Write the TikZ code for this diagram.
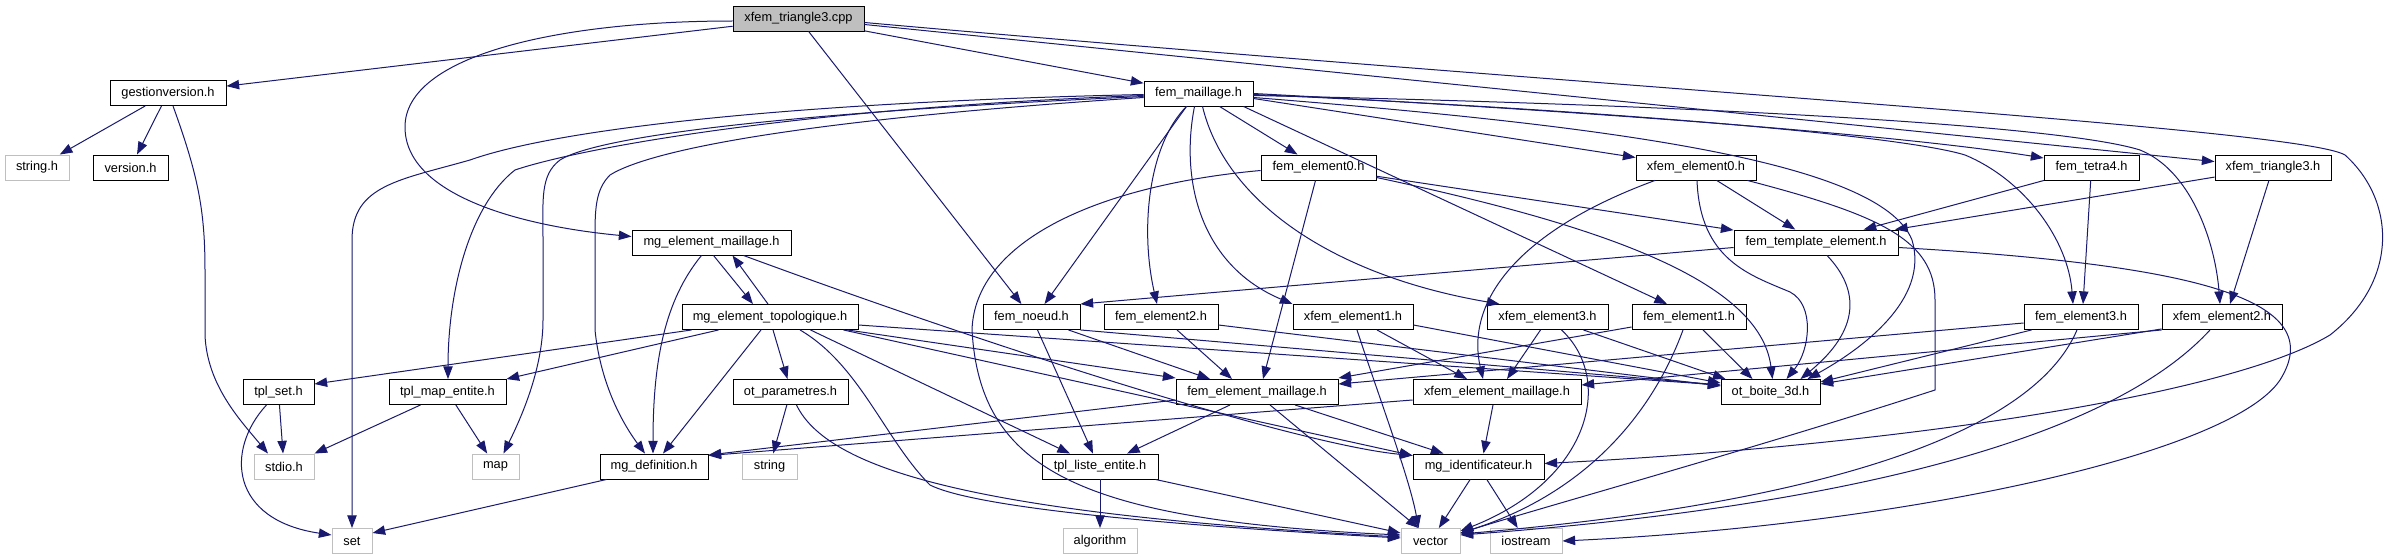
\documentclass[tikz,border=0pt]{standalone}
\usepackage{fontspec}
\setmainfont{Liberation Sans}
\usetikzlibrary{arrows.meta,calc}
\definecolor{edgec}{HTML}{191970}
\definecolor{extc}{HTML}{BFBFBF}
\definecolor{rootc}{HTML}{BFBFBF}
\newcommand\gn[6]{\node[#1, minimum width=#4*0.75pt, minimum height=#5*0.75pt] (#2) at (#3) {#6};}
\begin{document}
\begin{tikzpicture}[x=0.75pt,y=-0.75pt,
  nb/.style={draw=black,line width=0.7pt,fill=white,inner sep=0pt,font=\fontsize{9.6pt}{11.5pt}\selectfont},
  ext/.style={nb,draw=extc},
  rootn/.style={nb,fill=rootc},
  edg/.style={draw=edgec,line width=0.75pt,-{Triangle[length=9.5pt,width=7pt]}}]
\useasboundingbox (0,0) rectangle (2394,560);
\fill[white] (0,0) rectangle (2394,560);
% nodes
\gn{rootn}{cpp}{798.5,18.5}{131}{25}{xfem\_triangle3.cpp}
\gn{nb}{gv}{168,93}{116}{25}{gestionversion.h}
\gn{ext}{strh}{37,167.5}{64}{25}{string.h}
\gn{nb}{ver}{130.5,167.5}{75}{25}{version.h}
\gn{nb}{fm}{1198.5,93.5}{109}{25}{fem\_maillage.h}
\gn{nb}{fe0}{1318.5,167.5}{115}{25}{fem\_element0.h}
\gn{nb}{xe0}{1696,167.5}{120}{25}{xfem\_element0.h}
\gn{nb}{ft4}{2091.5,167.5}{95}{25}{fem\_tetra4.h}
\gn{nb}{xt3}{2273,167.5}{116}{25}{xfem\_triangle3.h}
\gn{nb}{mem}{711.5,242.5}{159}{25}{mg\_element\_maillage.h}
\gn{nb}{fte}{1816,242.5}{164}{25}{fem\_template\_element.h}
\gn{nb}{met}{770,317}{176}{25}{mg\_element\_topologique.h}
\gn{nb}{fn}{1031.5,317}{97}{25}{fem\_noeud.h}
\gn{nb}{fe2}{1161,317}{114}{25}{fem\_element2.h}
\gn{nb}{xe1}{1353,317}{120}{25}{xfem\_element1.h}
\gn{nb}{xe3}{1547.5,317}{121}{25}{xfem\_element3.h}
\gn{nb}{fe1}{1689,317}{114}{25}{fem\_element1.h}
\gn{nb}{fe3}{2081,317}{114}{25}{fem\_element3.h}
\gn{nb}{xe2}{2222,317}{120}{25}{xfem\_element2.h}
\gn{nb}{tset}{278.5,392}{71}{25}{tpl\_set.h}
\gn{nb}{tme}{447.5,392}{117}{25}{tpl\_map\_entite.h}
\gn{nb}{otp}{790.5,392}{115}{25}{ot\_parametres.h}
\gn{nb}{fem}{1257,392}{162}{25}{fem\_element\_maillage.h}
\gn{nb}{xem}{1497,392}{168}{25}{xfem\_element\_maillage.h}
\gn{nb}{ob}{1770.5,392}{99}{25}{ot\_boite\_3d.h}
\gn{ext}{stdio}{284,466.5}{60}{25}{stdio.h}
\gn{ext}{map}{495.5,466.5}{47}{25}{map}
\gn{nb}{mgd}{654,466.5}{108}{25}{mg\_definition.h}
\gn{ext}{str}{769.5,466.5}{55}{25}{string}
\gn{nb}{tle}{1100,466.5}{116}{25}{tpl\_liste\_entite.h}
\gn{nb}{mid}{1478.5,466.5}{131}{25}{mg\_identificateur.h}
\gn{ext}{set}{352,541}{40}{25}{set}
\gn{ext}{alg}{1100,541}{74}{25}{algorithm}
\gn{ext}{vec}{1430.5,541}{59}{25}{vector}
\gn{ext}{ios}{1526,541}{72}{25}{iostream}
% cpp
\draw[edg] (cpp) -- (gv);
\draw[edg] ($(cpp.west)+(0,2.5)$) .. controls (560,21) and (405,55) .. (405,127) .. controls (405,195) and (520,226) .. ($(mem.west)+(0,-6)$);
\draw[edg] (cpp) -- (fn);
\draw[edg] (cpp) -- (fm);
\draw[edg] ($(cpp.east)+(0,6)$) -- (xt3);
\draw[edg] ($(cpp.east)+(0,4)$) .. controls (1600,88) and (2300,128) .. (2345,155) .. controls (2395,200) and (2400,280) .. (2330,335) .. controls (2230,395) and (1900,445) .. ($(mid.east)+(0,-3)$);
% gestionversion
\draw[edg] (gv) -- (strh);
\draw[edg] (gv) -- (ver);
\draw[edg] ($(gv.south)+(5,0)$) .. controls (198,175) and (205,210) .. (205,270) -- (205,335) .. controls (207,385) and (240,420) .. ($(stdio.north)+(-16,0)$);
% fem_maillage left
\draw[edg] ($(fm.west)+(0,1)$) .. controls (800,102) and (560,128) .. (470,160) .. controls (400,180) and (352,185) .. (352,240) -- (set.north);
\draw[edg] ($(fm.west)+(0,2)$) .. controls (800,108) and (580,148) .. (515,170) .. controls (470,205) and (448,290) .. ($(tme.north)+(0.5,0)$);
\draw[edg] ($(fm.west)+(0,3)$) .. controls (800,112) and (600,135) .. (560,160) .. controls (540,175) and (543,200) .. (543,240) -- (543,320) .. controls (543,370) and (520,420) .. ($(map.north)+(8,0)$);
\draw[edg] ($(fm.west)+(0,4)$) .. controls (800,120) and (650,150) .. (610,175) .. controls (595,190) and (595,210) .. (595,240) -- (595,330) .. controls (600,380) and (620,420) .. ($(mgd.north)+(-9,0)$);
% fem_maillage down / right
\draw[edg] ($(fm.south)+(-12,0)$) -- ($(fn.north)+(13,0)$);
\draw[edg] ($(fm.south)+(-12,0)$) .. controls (1148,145) and (1140,230) .. ($(fe2.north)+(-4,0)$);
\draw[edg] ($(fm.south)+(-4,0)$) .. controls (1180,180) and (1200,265) .. (xe1.north west);
\draw[edg] ($(fm.south)+(4,0)$) .. controls (1225,200) and (1330,275) .. ($(xe3.north west)+(13,0)$);
\draw[edg] (fm) -- (fe0);
\draw[edg] ($(fm.south east)+(-10,0)$) -- ($(fe1.north)+(-22,0)$);
\draw[edg] ($(fm.east)+(0,5)$) -- ($(xe0.west)+(0,-10)$);
\draw[edg] (fm.east) .. controls (1600,112) and (1900,135) .. ($(ft4.west)+(0,-9.5)$);
\draw[edg] ($(fm.east)+(0,1)$) .. controls (1600,110) and (1900,135) .. (1965,155) .. controls (2025,180) and (2068,240) .. ($(fe3.north)+(-8,0)$);
\draw[edg] ($(fm.east)+(0,2)$) .. controls (1700,105) and (2060,125) .. (2140,150) .. controls (2190,170) and (2215,240) .. ($(xe2.north)+(-2,0)$);
\draw[edg] ($(fm.east)+(0,4)$) .. controls (1600,125) and (1880,160) .. (1912,240) .. controls (1930,300) and (1860,350) .. ($(ob.north)+(37,0)$);
% fem_element0
\draw[edg] (fe0) -- (fte);
\draw[edg] ($(fe0.east)+(0,10)$) .. controls (1600,225) and (1760,280) .. ($(ob.north)+(2,0)$);
\draw[edg] ($(fe0.south)+(-3,0)$) -- ($(fem.north)+(6,0)$);
\draw[edg] ($(fe0.west)+(0,3)$) .. controls (1100,185) and (975,240) .. (972,330) .. controls (980,470) and (1080,520) .. ($(vec.west)+(0,-6)$);
% xfem_element0
\draw[edg] (xe0) -- (fte);
\draw[edg] ($(xe0.south)+(1,0)$) .. controls (1700,260) and (1750,275) .. (1790,292) .. controls (1815,305) and (1810,350) .. ($(ob.north)+(16,0)$);
\draw[edg] ($(xe0.south)+(-41,0)$) .. controls (1520,230) and (1465,300) .. ($(xem.north)+(-14,0)$);
\draw[edg] ($(xe0.south east)+(-9,0)$) .. controls (1880,215) and (1935,240) .. (1935,300) -- (1935,390) .. controls (1750,450) and (1550,505) .. ($(vec.east)+(0,-8)$);
% fem_tetra4, xfem_triangle3
\draw[edg] (ft4) -- (fte);
\draw[edg] (ft4) -- ($(fe3.north)+(2,0)$);
\draw[edg] (xt3) -- (fte);
\draw[edg] (xt3) -- ($(xe2.north)+(8,0)$);
% fem_template_element
\draw[edg] ($(fte.west)+(0,5)$) -- (fn.north east);
\draw[edg] ($(fte.south)+(11,0)$) .. controls (1860,290) and (1860,330) .. ($(ob.north)+(30,0)$);
\draw[edg] ($(fte.east)+(0,5)$) .. controls (2200,265) and (2330,300) .. (2280,380) .. controls (2230,455) and (1900,525) .. (ios.east);
% mg_element_maillage
\draw[edg] ($(mem.south)+(2,0)$) -- ($(met.north)+(-17,0)$);
\draw[edg] ($(met.north)+(-2,0)$) -- ($(mem.south)+(21,0)$);
\draw[edg] ($(mem.south)+(-10,0)$) .. controls (665,300) and (653,360) .. ($(mgd.north)+(-1,0)$);
\draw[edg] ($(mem.south east)+(-48,0)$) .. controls (1000,350) and (1300,445) .. ($(mid.west)+(0,-11)$);
% mg_element_topologique
\draw[edg] ($(met.south west)+(10,0)$) -- ($(tset.east)+(0,-8)$);
\draw[edg] ($(met.south west)+(37,0)$) -- (tme.north east);
\draw[edg] ($(met.south)+(-9,0)$) -- ($(mgd.north)+(9,0)$);
\draw[edg] ($(met.south)+(3,0)$) -- ($(otp.north)+(-3,0)$);
\draw[edg] ($(met.south)+(30,0)$) .. controls (860,365) and (885,440) .. (930,485) .. controls (980,510) and (1200,527) .. ($(vec.west)+(0,-3)$);
\draw[edg] ($(met.south east)+(-48,0)$) -- ($(tle.north)+(-30,0)$);
\draw[edg] ($(met.south east)+(-11,0)$) -- ($(fem.west)+(0,-14)$);
\draw[edg] ($(met.east)+(0,8)$) -- ($(ob.west)+(0,-7)$);
\draw[edg] ($(met.south east)+(-15,0)$) -- ($(mid.west)+(0,-11)$);
% fem_noeud
\draw[edg] ($(fn.south east)+(-12,0)$) -- ($(fem.north)+(-47,0)$);
\draw[edg] ($(fn.south)+(6,0)$) -- ($(tle.north)+(-7,0)$);
\draw[edg] (fn.south east) -- ($(ob.west)+(0,-7)$);
% fem_element2
\draw[edg] ($(fe2.south)+(16,0)$) -- ($(fem.north)+(-25,0)$);
\draw[edg] ($(fe2.east)+(0,8)$) -- ($(ob.west)+(0,-6)$);
% xfem_element1
\draw[edg] ($(xe1.south)+(4,0)$) .. controls (1380,400) and (1410,480) .. ($(vec.north)+(-12,0)$);
\draw[edg] ($(xe1.south)+(24,0)$) -- ($(xem.north)+(-30,0)$);
\draw[edg] ($(xe1.east)+(0,8)$) -- ($(ob.west)+(0,-9)$);
% xfem_element3
\draw[edg] ($(xe3.south)+(-7,0)$) -- ($(xem.north)+(10,0)$);
\draw[edg] ($(xe3.south)+(14,0)$) .. controls (1615,380) and (1590,480) .. ($(vec.east)+(0,-10)$);
\draw[edg] ($(xe3.south east)+(-25,0)$) -- ($(ob.north west)+(5,0)$);
% fem_element1
\draw[edg] ($(fe1.west)+(0,10)$) -- ($(fem.east)+(0,-14)$);
\draw[edg] ($(fe1.south)+(-6,0)$) .. controls (1650,420) and (1580,495) .. ($(vec.east)+(0,-8)$);
\draw[edg] ($(fe1.south)+(14,0)$) -- ($(ob.north)+(-18,0)$);
% fem_element3
\draw[edg] ($(fe3.west)+(0,6)$) -- ($(fem.east)+(0,-8)$);
\draw[edg] ($(fe3.south west)+(8,0)$) -- ($(ob.east)+(0,-10)$);
\draw[edg] ($(fe3.south)+(-4,0)$) .. controls (2030,440) and (1800,505) .. ($(vec.east)+(0,-7)$);
% xfem_element2
\draw[edg] (xe2.south west) -- ($(xem.east)+(0,-7)$);
\draw[edg] ($(xe2.south west)+(0,-1)$) -- ($(ob.east)+(0,-8)$);
\draw[edg] ($(xe2.south)+(-12,0)$) .. controls (2100,450) and (1800,510) .. ($(vec.east)+(0,-6)$);
% fem_element_maillage
\draw[edg] ($(fem.south)+(-27,0)$) -- ($(tle.north)+(27,0)$);
\draw[edg] ($(fem.west)+(0,8)$) -- ($(mgd.east)+(0,-11.5)$);
\draw[edg] ($(fem.south)+(38,0)$) -- ($(mid.north)+(-35,0)$);
\draw[edg] ($(fem.south)+(13,0)$) -- ($(vec.north)+(-12,0)$);
% xfem_element_maillage
\draw[edg] ($(xem.south)+(-4,0)$) -- ($(mid.north)+(5,0)$);
\draw[edg] ($(xem.west)+(0,8)$) -- ($(mgd.east)+(0,-11)$);
% mg_identificateur
\draw[edg] (mid) -- (vec);
\draw[edg] (mid) -- (ios);
% tpl_liste_entite
\draw[edg] (tle) -- (alg);
\draw[edg] ($(tle.south east)+(-3,0)$) -- ($(vec.west)+(0,-8)$);
% ot_parametres
\draw[edg] (otp) -- (str);
\draw[edg] ($(otp.south)+(6,0)$) .. controls (830,475) and (1000,515) .. ($(vec.west)+(0,-4)$);
% others
\draw[edg] ($(mgd.south west)+(7,0)$) -- ($(set.east)+(0,-8)$);
\draw[edg] (tset) -- (stdio);
\draw[edg] ($(tset.south)+(-12,0)$) .. controls (225,450) and (230,520) .. ($(set.west)+(0,-6)$);
\draw[edg] ($(tme.south)+(-27,0)$) -- (stdio.north east);
\draw[edg] (tme) -- (map);
\end{tikzpicture}
\end{document}
